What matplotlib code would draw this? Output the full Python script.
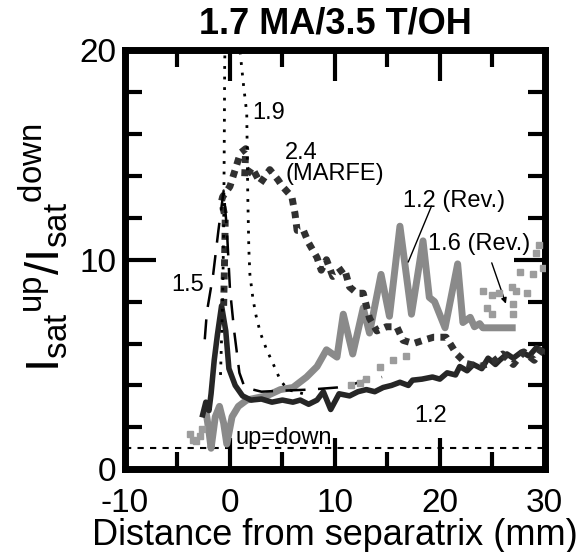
"""
Upstream/downstream ion saturation current ratio vs distance from separatrix.
"""
import matplotlib
matplotlib.use("Agg")
import matplotlib.pyplot as plt
from matplotlib.ticker import MultipleLocator

plt.rcParams["font.family"] = ["Liberation Sans", "DejaVu Sans"]
plt.rcParams["mathtext.fontset"] = "custom"
plt.rcParams["mathtext.rm"] = "Liberation Sans"
plt.rcParams["axes.unicode_minus"] = False

BLACK = "#262626"
DARK = "#303030"
GRAY = "#8a8a8a"
LIGHT = "#9c9c9c"

# 1.9 (dotted)
x_19 = [-0.9, -0.7, -0.6, -0.55, -0.5, -0.3, 0.3, 0.95, 1.3, 1.6, 1.7, 1.8,
        1.9, 2.2, 2.5, 2.9, 3.5, 4.1, 4.8, 5.5, 7.0]
y_19 = [4.5, 8.0, 11.5, 15.0, 19.5, 23.0, 25.0, 20.0, 18.3, 17.0, 13.0, 10.5,
        9.3, 8.1, 7.3, 6.5, 5.7, 5.05, 4.25, 3.8, 3.6]

# 1.5 (long dash)
x_15 = [-2.4, -2.2, -1.6, -1.1, -0.6, -0.3, 0.0, 0.4, 0.9, 1.4, 3.0, 5.0,
        7.6, 10.2, 11.4, 12.9, 14.5]
y_15 = [6.2, 7.5, 9.3, 11.4, 13.3, 11.5, 8.6, 6.6, 4.6, 3.9, 3.7, 3.75,
        3.8, 3.9, 4.0, 4.25, 4.4]

# 2.4 (MARFE)
x_24 = [-0.6, -0.5, -0.45, -0.8, -0.7, 0.0, 0.5, 1.0, 1.5, 1.4, 2.1, 2.9,
        3.8, 4.6, 5.0, 5.9, 6.2, 6.4, 7.0, 7.5, 8.3, 8.7, 9.2, 9.8, 10.9,
        11.4, 12.1, 12.7, 13.3, 14.0, 14.9, 15.9, 16.5, 17.5, 18.4, 19.4,
        20.6, 21.6, 22.5, 23.8, 25.0, 26.0, 27.0, 28.0, 29.0, 30.0]
y_24 = [7.8, 10.3, 12.0, 12.8, 13.0, 13.5, 14.3, 15.1, 15.3, 13.9, 14.4, 13.65,
        14.3, 13.8, 13.5, 13.0, 12.2, 11.4, 11.4, 10.8, 10.1, 9.5, 10.0, 9.2, 9.6,
        8.7, 8.4, 8.4, 7.2, 6.6, 6.8, 6.8, 6.15, 6.0, 6.15, 6.3,
        6.3, 5.5, 5.05, 4.9, 5.1, 5.5, 5.0, 5.6, 5.2, 5.9]

# 1.2 (black solid)
x_12 = [-2.6, -2.3, -2.0, -1.8, -1.5, -1.2, -0.8, -0.4, -0.1, 0.5, 1.2, 2.0,
        3.0, 4.0, 5.0, 6.0, 6.7, 7.5, 8.3, 8.9, 9.6, 10.4, 11.4, 12.2, 13.0,
        13.8, 14.6, 15.4, 16.2, 17.0, 17.4, 18.3, 19.3, 20.0, 20.7, 21.5,
        21.9, 22.6, 23.2, 24.0, 24.6, 25.3, 25.7, 26.4, 27.0, 27.8, 28.5,
        29.2, 30.0]
y_12 = [2.6, 3.2, 2.8, 3.6, 5.2, 6.4, 7.8, 6.6, 4.8, 4.0, 3.5, 3.3,
        3.35, 3.2, 3.3, 3.2, 3.3, 3.1, 3.3, 3.7, 2.85, 3.6, 3.5, 3.7, 3.8,
        3.7, 3.9, 4.0, 4.15, 4.0, 4.25, 4.3, 4.4, 4.3, 4.6, 4.5,
        4.9, 4.7, 5.0, 4.8, 5.3, 5.0, 5.2, 5.5, 5.3, 5.6, 5.4,
        5.8, 5.6]

# 1.2 (Rev.) (gray solid)
x_12r = [-2.3, -2.0, -1.8, -1.4, -1.0, -0.6, -0.3, 0.2, 0.8, 1.6, 2.5, 3.5,
         4.8, 6.0, 7.3, 8.3, 9.2, 10.2, 10.8, 11.7, 12.7, 13.3, 14.4, 15.2,
         16.2, 17.3, 18.4, 19.0, 19.5, 20.5, 21.7, 22.2, 22.9, 23.3, 23.8,
         24.1, 26.9]
y_12r = [2.8, 1.8, 1.0, 2.5, 3.0, 2.2, 1.2, 2.5, 3.0, 3.3, 3.4, 3.5,
         3.8, 3.9, 4.4, 4.9, 5.7, 5.35, 7.4, 5.5, 7.7, 6.5, 9.3, 7.3,
         11.6, 7.4, 10.9, 8.2, 8.0, 6.75, 9.8, 7.0, 7.25, 6.8, 6.95,
         6.75, 6.75]

# 1.6 (Rev.) (light gray points)
x_16r = [-3.8, -3.5, -3.2, -2.9, -2.7, 11.5, 12.4, 13.0, 14.3, 15.5, 16.8,
         24.1, 24.5, 25.0, 25.0, 25.6, 26.9, 27.0, 27.0, 27.3, 27.6, 28.3,
         28.9, 29.2, 29.8, 29.5]
y_16r = [1.7, 1.4, 1.35, 1.6, 1.9, 4.0, 4.1, 4.3, 4.9, 5.2, 5.4,
         8.5, 7.7, 8.3, 7.4, 8.4, 8.7, 7.9, 7.4, 8.5, 9.4, 8.4,
         9.3, 10.3, 9.6, 10.7]

fig = plt.figure(figsize=(5.87, 5.52), dpi=100)
ax = fig.add_axes([0.213, 0.150, 0.715, 0.759])

ax.axhline(1.0, color="black", lw=1.5, ls=(0, (3, 3)), zorder=1)

ax.plot(x_12r, y_12r, color=GRAY, lw=5, zorder=3, solid_joinstyle="round")
ax.plot(x_12, y_12, color=BLACK, lw=4, zorder=4, solid_joinstyle="round")
ax.plot(x_24, y_24, color=DARK, lw=5, ls=(0, (1.0, 0.9)), zorder=5)
ax.plot(x_15, y_15, color="black", lw=1.8, ls=(0, (8, 5)), zorder=6)
ax.plot(x_19, y_19, color="black", lw=2.0, ls=(0, (1.0, 2.8)), zorder=6)
ax.plot(x_16r, y_16r, ls="none", marker="s", ms=4, color=LIGHT,
        mec=LIGHT, zorder=7)

# curve labels
fs = 17
ax.text(2.1, 17.0, "1.9", fontsize=fs, va="center")
ax.text(5.2, 15.1, "2.4", fontsize=fs, va="center")
ax.text(5.3, 14.1, "(MARFE)", fontsize=fs, va="center")
ax.text(16.5, 12.8, "1.2 (Rev.)", fontsize=fs, va="center")
ax.text(18.9, 10.75, "1.6 (Rev.)", fontsize=fs, va="center")
ax.text(-5.6, 8.8, "1.5", fontsize=fs, va="center")
ax.text(17.6, 2.55, "1.2", fontsize=fs, va="center")
ax.text(0.5, 1.5, "up=down", fontsize=fs, va="center")

ax.plot([19.2, 17.0], [12.55, 9.9], color="black", lw=1.0, zorder=8)
ax.annotate("", xy=(26.3, 7.9), xytext=(24.95, 9.85),
            arrowprops=dict(arrowstyle="-|>", color="black", lw=1.0,
                            mutation_scale=8, shrinkA=0, shrinkB=0))

ax.set_xlim(-10, 30)
ax.set_ylim(0, 20)
ax.xaxis.set_major_locator(MultipleLocator(10))
ax.xaxis.set_minor_locator(MultipleLocator(5))
ax.yaxis.set_major_locator(MultipleLocator(10))
ax.yaxis.set_minor_locator(MultipleLocator(2))
ax.tick_params(which="both", direction="in", top=True, right=True,
               width=3, labelsize=24)
ax.tick_params(axis="x", which="major", pad=13.5)
ax.tick_params(axis="y", which="major", pad=6)
ax.tick_params(which="major", length=22)
ax.tick_params(which="minor", length=12)
for sp in ax.spines.values():
    sp.set_linewidth(5)

ax.set_xlabel("Distance from separatrix (mm)", fontsize=26, labelpad=-1)
ax.set_ylabel(r"$\mathregular{I_{sat}{}^{up}/I_{sat}{}^{down}}$", fontsize=34)
ax.yaxis.set_label_coords(-0.13, 0.53)
ax.set_title("1.7 MA/3.5 T/OH", fontsize=26, fontweight="bold", pad=12)

fig.savefig("out.png", dpi=100)
